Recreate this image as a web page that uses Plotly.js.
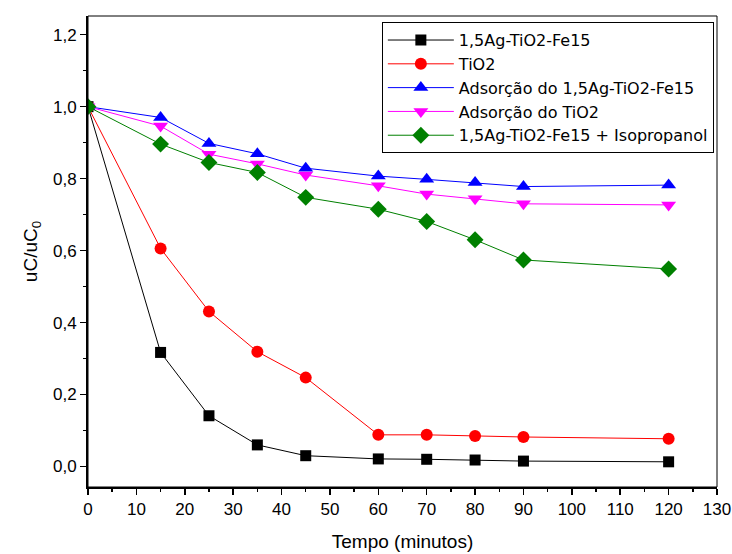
<!DOCTYPE html>
<html>
<head>
<meta charset="utf-8">
<script src="https://cdn.plot.ly/plotly-3.0.1.min.js"></script>
<style>html,body{margin:0;padding:0;background:#fff;}#chart{width:732px;height:554px;}</style>
</head>
<body>
<div id="chart"></div>
<script>
const tempo = [0, 15, 25, 35, 45, 60, 70, 80, 90, 120];
const agTiO2Fe15 = [1.0, 0.317, 0.141, 0.060, 0.030, 0.021, 0.020, 0.018, 0.015, 0.013];
const tio2 = [1.0, 0.606, 0.431, 0.319, 0.247, 0.088, 0.088, 0.085, 0.082, 0.077];
const adsAgTiO2Fe15 = [1.0, 0.970, 0.898, 0.869, 0.829, 0.807, 0.798, 0.789, 0.778, 0.782];
const adsTiO2 = [1.0, 0.946, 0.868, 0.841, 0.810, 0.780, 0.757, 0.744, 0.730, 0.727];
const agIsopropanol = [1.0, 0.896, 0.845, 0.817, 0.748, 0.715, 0.681, 0.630, 0.574, 0.549];
const seriesNames = ["1,5Ag-TiO2-Fe15", "TiO2", "Adsorção do 1,5Ag-TiO2-Fe15", "Adsorção do TiO2", "1,5Ag-TiO2-Fe15 + Isopropanol"];

const series = [agTiO2Fe15, tio2, adsAgTiO2Fe15, adsTiO2, agIsopropanol];
const colors = ["#000000", "#ff0000", "#0000ff", "#ff00ff", "#008000"];
const symbols = ["square", "circle", "triangle-up", "triangle-down", "diamond"];
const sizes = [11, 12, 13, 13, 13];

const traces = series.map((ys, i) => ({
  x: tempo, y: ys, name: seriesNames[i], type: "scatter", mode: "lines+markers",
  line: {color: colors[i], width: 1},
  marker: {color: colors[i], symbol: symbols[i], size: sizes[i], line: {width: 0}}
}));

const layout = {
  width: 732, height: 554,
  margin: {l: 88, r: 15, t: 16, b: 67},
  paper_bgcolor: "#fff", plot_bgcolor: "#fff",
  separators: ",.",
  font: {family: "Liberation Sans, Arial, sans-serif", color: "#000", size: 17},
  showlegend: true,
  legend: {
    x: 0.995, y: 0.987, xanchor: "right", yanchor: "top",
    bordercolor: "#000", borderwidth: 1, bgcolor: "#fff",
    font: {size: 16, family: "DejaVu Sans, sans-serif"},
    tracegroupgap: 0, itemwidth: 66
  },
  xaxis: {
    range: [0, 130], dtick: 10, tick0: 0,
    showgrid: false, zeroline: false,
    showline: true, linecolor: "#000", linewidth: 2,
    ticks: "outside", ticklen: 6, tickwidth: 1.5, tickcolor: "#000",
    minor: {dtick: 5, ticks: "outside", ticklen: 3, tickwidth: 1.5, tickcolor: "#000", showgrid: false},
    tickfont: {size: 17},
    title: {text: "Tempo (minutos)", font: {size: 19}, standoff: 16}
  },
  yaxis: {
    range: [-0.057, 1.252], dtick: 0.2, tick0: 0, tickformat: ".1f",
    showgrid: false, zeroline: false,
    showline: true, linecolor: "#000", linewidth: 2,
    ticks: "outside", ticklen: 6, tickwidth: 1.5, tickcolor: "#000",
    minor: {dtick: 0.1, ticks: "outside", ticklen: 3, tickwidth: 1.5, tickcolor: "#000", showgrid: false},
    tickfont: {size: 17},
    title: {text: "uC/uC<sub>0</sub>", font: {size: 19}, standoff: 10}
  },
  shapes: [{
    type: "rect", xref: "paper", yref: "paper", x0: 0, x1: 1, y0: 0, y1: 1,
    line: {color: "#000", width: 1}, layer: "above"
  }]
};

Plotly.newPlot("chart", traces, layout, {displayModeBar: false, staticPlot: true});
</script>
</body>
</html>
